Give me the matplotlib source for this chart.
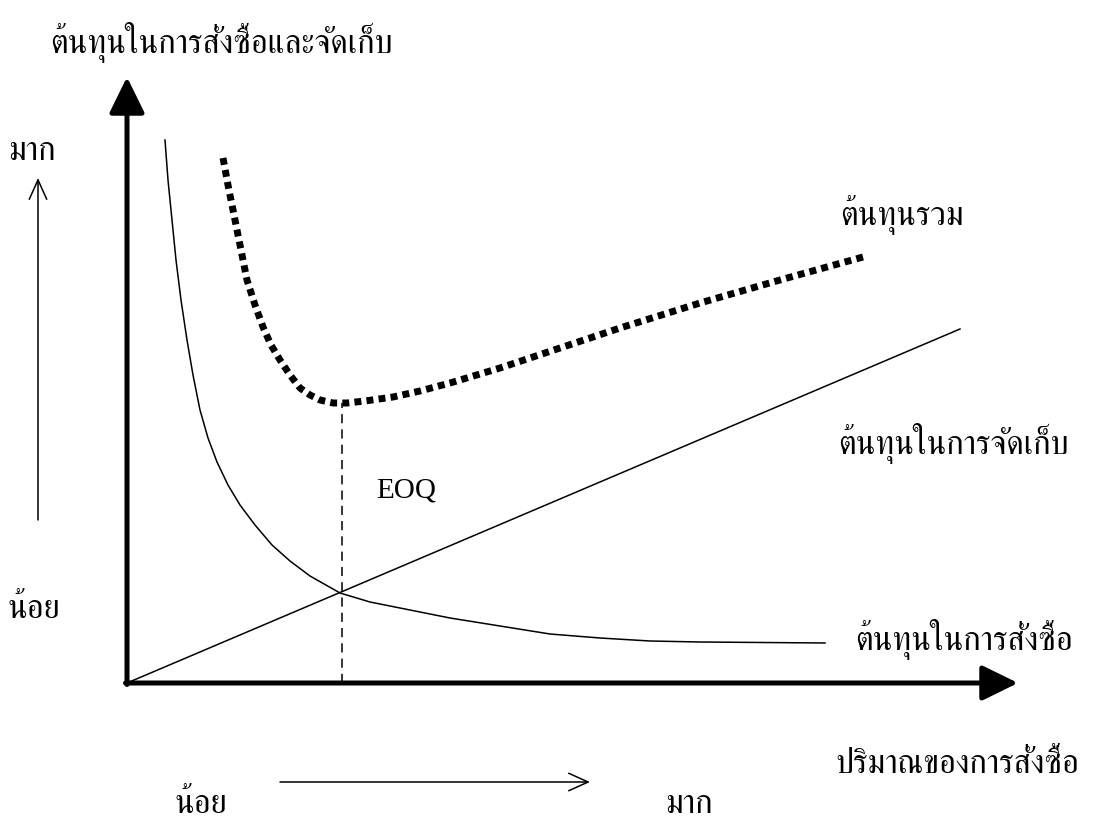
import matplotlib
matplotlib.use("Agg")
import matplotlib.pyplot as plt
from matplotlib import font_manager
from matplotlib.ft2font import FT2Font

# find an installed font that has Thai glyphs
thai_font = None
for f in font_manager.fontManager.ttflist:
    try:
        if 0x0E01 in FT2Font(f.fname).get_charmap():
            thai_font = f.name
            if "Serif" in f.name or "Looped" in f.name:
                break
    except Exception:
        pass
fams = [thai_font, "DejaVu Sans"] if thai_font else ["DejaVu Sans"]
plt.rcParams["font.family"] = fams

# coordinates: order quantity (x) and cost (y), origin at the axes corner
order_x = [38, 41, 45, 49, 54, 60, 66, 73, 81, 90, 101, 113, 128, 145, 163,
           183, 213, 243, 283, 323, 373, 423, 473, 523, 573, 698]
order_y = [543, 503, 463, 423, 383, 343, 308, 273, 245, 221, 198, 178, 158,
           138, 122, 107, 90, 81, 73, 65, 57, 49, 45, 42, 41, 40]

total_x = [96, 101, 106, 113, 120, 128, 136, 144, 153, 163, 173, 183, 193,
           206, 220, 238, 266, 293, 323, 373, 433, 493, 573, 653, 736]
total_y = [525, 498, 473, 438, 403, 378, 356, 338, 323, 308, 295, 288, 283,
           280, 280, 282, 286, 292, 300, 315, 335, 355, 380, 403, 426]

hold_x = [0, 833]
hold_y = [0, 354]

eoq_x = 215
eoq_top = 280

labels = {
    "title": "ต้นทุนในการสั่งซื้อและจัดเก็บ",
    "more": "มาก",
    "less": "น้อย",
    "total": "ต้นทุนรวม",
    "hold": "ต้นทุนในการจัดเก็บ",
    "order": "ต้นทุนในการสั่งซื้อ",
    "qty": "ปริมาณของการสั่งซื้อ",
}

fig = plt.figure(figsize=(10.95, 8.23), dpi=100)
ax = fig.add_axes([0, 0, 1, 1])
ax.set_xlim(-127, 968)
ax.set_ylim(-140, 683)
ax.axis("off")

# main axes with filled arrowheads
axis_arrow = dict(arrowstyle="-|>,head_length=1.1,head_width=0.54", lw=3.6,
                  color="black", mutation_scale=20, shrinkA=0, shrinkB=0)
ax.annotate("", xy=(0, 606), xytext=(0, -1.5), arrowprops=axis_arrow)
ax.annotate("", xy=(891, 0), xytext=(-1.5, 0), arrowprops=axis_arrow)

# cost curves
ax.plot(order_x, order_y, color="black", lw=1.1)
ax.plot(hold_x, hold_y, color="black", lw=1.1)
ax.plot(total_x, total_y, color="black", lw=5, linestyle=(0, (1, 0.75)),
        dash_capstyle="butt")
ax.plot([eoq_x, eoq_x], [0, eoq_top], color="black", lw=1.1,
        linestyle=(0, (6, 4)))

# small direction arrows
thin_arrow = dict(arrowstyle="->,head_length=1.0,head_width=0.45", lw=1.1,
                  color="black", mutation_scale=14, shrinkA=0, shrinkB=0)
ax.annotate("", xy=(-89, 505), xytext=(-89, 163), arrowprops=thin_arrow)
ax.annotate("", xy=(463, -99), xytext=(153, -99), arrowprops=thin_arrow)

fs = 23.5
ax.text(-77, 641, labels["title"], fontsize=fs, va="center", ha="left")
ax.text(-119, 531, labels["more"], fontsize=fs, va="center", ha="left")
ax.text(-119, 73, labels["less"], fontsize=fs, va="center", ha="left")
ax.text(713, 468, labels["total"], fontsize=fs, va="center", ha="left")
ax.text(711, 240, labels["hold"], fontsize=fs, va="center", ha="left")
ax.text(728, 43, labels["order"], fontsize=fs, va="center", ha="left")
ax.text(708, -82, labels["qty"], fontsize=fs, va="center", ha="left")
ax.text(48, -122, labels["less"], fontsize=fs, va="center", ha="left")
ax.text(538, -122, labels["more"], fontsize=fs, va="center", ha="left")
ax.text(249, 193, "EOQ", fontsize=21, va="center", ha="left",
        family="Liberation Serif")

fig.savefig("out.png", dpi=100)
